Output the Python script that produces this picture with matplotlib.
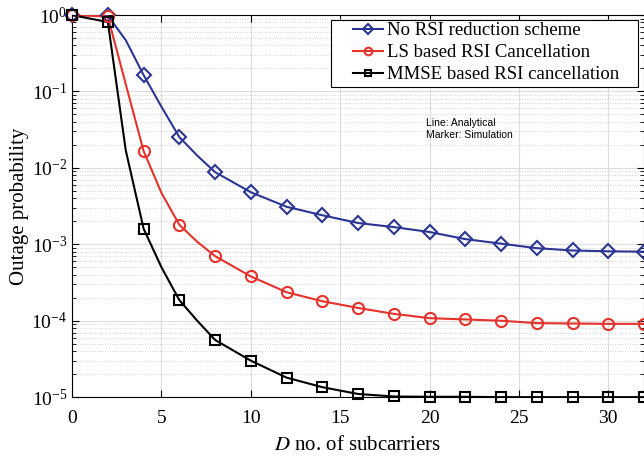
import matplotlib
matplotlib.use("Agg")
import matplotlib.pyplot as plt
from matplotlib.patches import Rectangle
from matplotlib.ticker import LogLocator, MultipleLocator, NullFormatter
import numpy as np

# simulation points (markers)
d_sim = [0, 2, 4, 6, 8, 10, 12, 14, 16, 18, 20, 22, 24, 26, 28, 30, 32]
p_none_sim = [1.0, 1.0, 0.164, 0.0253, 0.0088, 0.0048, 0.0031, 0.0024, 0.0019,
              0.00168, 0.00145, 0.00117, 0.00102, 0.00089, 0.00083, 0.00081, 0.0008]
p_ls_sim = [1.0, 0.96, 0.0166, 0.0018, 0.0007, 0.00038, 0.000236, 0.00018, 0.000147,
            0.000123, 0.000108, 0.000104, 0.0001, 0.000093, 0.000092, 0.000091, 0.000091]
p_mmse_sim = [1.0, 0.81, 0.0016, 0.000186, 5.6e-5, 3.0e-5, 1.8e-5, 1.35e-5, 1.1e-5,
              1.02e-5, 1.01e-5, 1.01e-5, 1.0e-5, 1.0e-5, 1.0e-5, 1.0e-5, 1.0e-5]

# analytical curves (lines)
d_ana = [0, 1, 2, 3, 4, 5, 6, 7, 8, 10, 12, 14, 16, 18, 20, 22, 24, 26, 28, 30, 32]
p_none_ana = [1.0, 1.0, 0.98, 0.47, 0.164, 0.063, 0.0253, 0.0145, 0.0088, 0.0048, 0.0031,
              0.0024, 0.0019, 0.00168, 0.00145, 0.00117, 0.00102, 0.00089, 0.00083,
              0.00081, 0.0008]
p_ls_ana = [1.0, 0.98, 0.95, 0.125, 0.0166, 0.0047, 0.0018, 0.00108, 0.0007, 0.00038,
            0.000236, 0.00018, 0.000147, 0.000123, 0.000108, 0.000104, 0.0001,
            0.000093, 0.000092, 0.000091, 0.000091]
p_mmse_ana = [1.0, 0.9, 0.81, 0.017, 0.0016, 0.0005, 0.000186, 0.0001, 5.6e-5, 3.0e-5,
              1.8e-5, 1.35e-5, 1.1e-5, 1.02e-5, 1.01e-5, 1.01e-5, 1.0e-5, 1.0e-5,
              1.0e-5, 1.0e-5, 1.0e-5]

labels = ["No RSI reduction scheme", "LS based RSI Cancellation",
          "MMSE based RSI cancellation"]

plt.rcParams['font.family'] = ['Liberation Serif', 'DejaVu Serif']
plt.rcParams['mathtext.fontset'] = 'stix'

colors = {"none": "#2b3594", "ls": "#e5322b", "mmse": "#000000"}

fig = plt.figure(figsize=(6.44, 4.57), dpi=100)
ax = fig.add_axes([0.112, 0.131, 0.888, 0.836])

series = [
    (p_none_sim, p_none_ana, colors["none"], "D", 7, 5),
    (p_ls_sim, p_ls_ana, colors["ls"], "o", 8, 5.5),
    (p_mmse_sim, p_mmse_ana, colors["mmse"], "s", 6.5, 4.5),
]
handles = []
for (sim, ana, col, mk, ms, ms_leg), lab in zip(series, labels):
    ax.plot(d_ana, ana, color=col, lw=1.5, zorder=3)
    ax.plot(d_sim, sim, ls='none', marker=mk, ms=ms, mfc='none', mec=col, mew=1.5,
            zorder=4, clip_on=False)
    h, = ax.plot([], [], color=col, lw=1.5, marker=mk, ms=ms_leg, mfc='none', mec=col,
                 mew=1.5, label=lab)
    handles.append(h)

ax.set_yscale('log')
ax.set_xlim(0, 32)
ax.set_ylim(1e-5, 1)
ax.xaxis.set_major_locator(MultipleLocator(5))
ax.yaxis.set_major_locator(LogLocator(base=10, numticks=10))
ax.yaxis.set_minor_locator(LogLocator(base=10, subs=np.arange(2, 10), numticks=10))
ax.yaxis.set_minor_formatter(NullFormatter())

ax.grid(True, which='major', color='#dcdcdc', lw=0.8, ls='-')
ax.grid(True, which='minor', axis='y', color='#c8c8c8', lw=0.6, ls=(0, (1, 2)))
ax.set_axisbelow(True)

ax.tick_params(which='both', direction='in', top=True, right=True, labelsize=14)
ax.tick_params(which='major', length=5)
ax.tick_params(which='minor', length=3)
ax.tick_params(axis='x', pad=9)

ax.set_xlabel(r"$\it{D}$ no. of subcarriers", fontsize=15, labelpad=7)
ax.set_ylabel("Outage probability", fontsize=15, labelpad=2)

# legend box drawn by hand, entries placed inside it
ax.add_patch(Rectangle((0.453, 0.812), 0.537, 0.175, transform=ax.transAxes,
                       facecolor='white', edgecolor='black', lw=0.8, zorder=5,
                       clip_on=False))
leg = ax.legend(handles=handles, loc='upper left', bbox_to_anchor=(0.491, 0.982),
                fontsize=13.5, frameon=False, handlelength=1.6, handletextpad=0.2,
                borderpad=0, labelspacing=0.26, borderaxespad=0)
leg.set_zorder(6)

ax.text(0.618, 0.73, "Line: Analytical\nMarker: Simulation", transform=ax.transAxes,
        fontsize=7.5, family=['Liberation Sans'], va='top', ha='left', linespacing=1.2)

fig.savefig("out.png", dpi=100)
